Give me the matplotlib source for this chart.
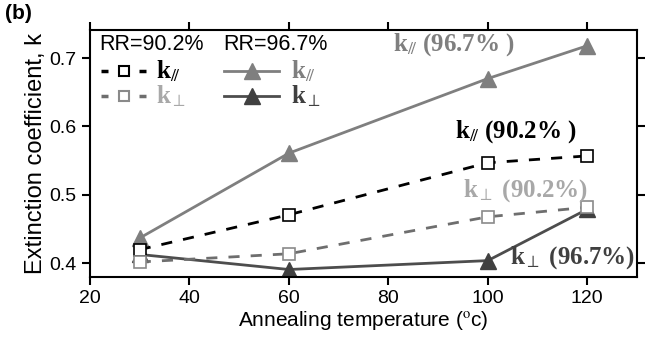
import numpy as np
import matplotlib.pyplot as plt

# annealing temperature (oC)
temp = [30, 60, 100, 120]

# extinction coefficient
k_par_902 = [0.420, 0.471, 0.547, 0.557]
k_perp_902 = [0.402, 0.414, 0.468, 0.482]
k_par_967 = [0.437, 0.561, 0.670, 0.718]
k_perp_967 = [0.413, 0.391, 0.404, 0.479]

plt.rcParams['font.family'] = ['Liberation Sans', 'DejaVu Sans']
plt.rcParams['mathtext.fontset'] = 'stix'

fig = plt.figure(figsize=(6.55, 3.45), dpi=100)
ax = fig.add_axes([0.1374, 0.197, 0.835, 0.716])

ax.plot(temp, k_par_967, '-', color='#7f7f7f', lw=2, marker='^', ms=11, mfc='#7f7f7f', mec='#7f7f7f')
ax.plot(temp, k_perp_967, '-', color='#4d4d4d', lw=2, marker='^', ms=11, mfc='#404040', mec='#404040')
ax.plot(temp, k_par_902, '--', color='black', lw=2, dashes=(4, 4), marker='s', ms=8, mfc='white', mec='black', mew=1.2)
ax.plot(temp, k_perp_902, '--', color='#6e6e6e', lw=2, dashes=(4, 4), marker='s', ms=8, mfc='white', mec='#8a8a8a', mew=1.2)

ax.set_xlim(20, 130)
ax.set_ylim(0.38, 0.741)
ax.set_xticks([20, 40, 60, 80, 100, 120])
ax.set_yticks([0.4, 0.5, 0.6, 0.7])
ax.tick_params(direction='out', top=True, right=True, labelsize=14, width=1.5, length=6)
for s in ax.spines.values():
    s.set_linewidth(1.5)

ax.set_xlabel('Annealing temperature ($^{\\rm o}$c)', fontsize=15, labelpad=1)
ax.set_ylabel('Extinction coefficient, k', fontsize=17, labelpad=2)

serif = dict(family=['Liberation Serif', 'DejaVu Serif'], fontweight='bold', fontsize=18)
ax.text(80.9, 0.719, r'k$_{/\!/}$ (96.7% )', color='#7f7f7f', va='center', **serif)
ax.text(93.4, 0.592, r'k$_{/\!/}$ (90.2% )', color='black', va='center', **serif)
ax.text(95.0, 0.507, r'k$_{\perp}$ (90.2%)', color='#a8a8a8', va='center', **serif)
ax.text(104.4, 0.408, r'k$_{\perp}$ (96.7%)', color='#404040', va='center', **serif)

# legend drawn by hand
ax.text(21.8, 0.720, 'RR=90.2%', fontsize=15.5, va='center')
ax.text(46.8, 0.720, 'RR=96.7%', fontsize=15.5, va='center')
rows = [0.681, 0.644]
for y, c, mc in [(rows[0], 'black', 'black'), (rows[1], '#6e6e6e', '#8a8a8a')]:
    ax.plot([22.2, 23.7], [y, y], '-', color=c, lw=2.5, solid_capstyle='butt')
    ax.plot([29.8, 31.3], [y, y], '-', color=c, lw=2.5, solid_capstyle='butt')
    ax.plot([26.8], [y], 's', ms=7, mfc='white', mec=mc, mew=1.5)
ax.plot([47, 58], [rows[0]] * 2, '-', color='#7f7f7f', lw=2)
ax.plot([52.5], [rows[0]], '^', ms=11, color='#7f7f7f')
ax.plot([47, 58], [rows[1]] * 2, '-', color='#4d4d4d', lw=2)
ax.plot([52.5], [rows[1]], '^', ms=11, color='#404040')
ax.text(33.3, rows[0], r'k$_{/\!/}$', color='black', va='center', **serif)
ax.text(33.3, rows[1], r'k$_{\perp}$', color='#a8a8a8', va='center', **serif)
ax.text(60.5, rows[0], r'k$_{/\!/}$', color='#7f7f7f', va='center', **serif)
ax.text(60.5, rows[1], r'k$_{\perp}$', color='#404040', va='center', **serif)

fig.text(0.008, 0.962, '(b)', fontsize=15, fontweight='bold', va='center')

fig.savefig('out.png', dpi=100)
